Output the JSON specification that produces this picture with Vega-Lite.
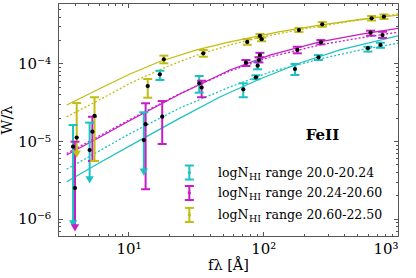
{
  "$schema": "https://vega.github.io/schema/vega-lite/v6.json",
  "width": 340,
  "height": 233,
  "autosize": {"type": "none"},
  "padding": {"left": 58, "top": 3, "right": 18, "bottom": 42},
  "config": {
    "view": {"stroke": "#555", "strokeWidth": 1},
    "font": "DejaVu Serif",
    "axis": {"domain": false, "grid": false, "tickColor": "#555", "tickWidth": 1, "labelFont": "DejaVu Serif", "labelFontSize": 15, "labelColor": "#000", "titleFont": "DejaVu Serif", "titleFontSize": 14.5, "titleFontWeight": "normal", "titleColor": "#000"}
  },
  "resolve": {"axis": {"x": "independent", "y": "independent"}},
  "datasets": {
    "bars": [
      {"s": "20.0-20.24", "x": 3.88, "y": 8.47e-6, "lo": 8.6e-7, "hi": 1.61e-5, "lim": true, "leg": false},
      {"s": "20.0-20.24", "x": 5.15, "y": 7.68e-6, "lo": 3.16e-6, "hi": 1.73e-5, "lim": true, "leg": false},
      {"s": "20.0-20.24", "x": 13.0, "y": 1.03e-5, "lo": 4.0e-6, "hi": 2.35e-5, "lim": true, "leg": false},
      {"s": "20.0-20.24", "x": 17.1, "y": 7.25e-5, "lo": 6.12e-5, "hi": 8.06e-5, "lim": false, "leg": false},
      {"s": "20.0-20.24", "x": 33.5, "y": 5.55e-5, "lo": 4.2e-5, "hi": 6.89e-5, "lim": false, "leg": false},
      {"s": "20.0-20.24", "x": 71.1, "y": 4.64e-5, "lo": 3.67e-5, "hi": 5.55e-5, "lim": false, "leg": false},
      {"s": "20.0-20.24", "x": 88.3, "y": 6.63e-5, "lo": 6.25e-5, "hi": 7.03e-5, "lim": false, "leg": false},
      {"s": "20.0-20.24", "x": 90.9, "y": 9.35e-5, "lo": 8.41e-5, "hi": 1.053e-4, "lim": false, "leg": false},
      {"s": "20.0-20.24", "x": 172, "y": 8.48e-5, "lo": 7.1e-5, "hi": 9.83e-5, "lim": false, "leg": false},
      {"s": "20.0-20.24", "x": 257, "y": 1.2e-4, "lo": 1.107e-4, "hi": 1.28e-4, "lim": false, "leg": false},
      {"s": "20.0-20.24", "x": 598, "y": 1.57e-4, "lo": 1.42e-4, "hi": 1.64e-4, "lim": false, "leg": false},
      {"s": "20.0-20.24", "x": 741, "y": 1.73e-4, "lo": 1.59e-4, "hi": 1.85e-4, "lim": false, "leg": false},
      {"s": "20.24-20.60", "x": 4.01, "y": 2.49e-6, "lo": 7.61e-7, "hi": 9.83e-6, "lim": true, "leg": false},
      {"s": "20.24-20.60", "x": 5.4, "y": 1.32e-5, "lo": 5.55e-6, "hi": 2.06e-5, "lim": false, "leg": false},
      {"s": "20.24-20.60", "x": 13.4, "y": 1.65e-5, "lo": 2.4e-6, "hi": 3.07e-5, "lim": false, "leg": false},
      {"s": "20.24-20.60", "x": 17.8, "y": 2.06e-5, "lo": 9.18e-6, "hi": 3.28e-5, "lim": false, "leg": false},
      {"s": "20.24-20.60", "x": 34.9, "y": 4.9e-5, "lo": 3.67e-5, "hi": 5.99e-5, "lim": false, "leg": false},
      {"s": "20.24-20.60", "x": 74.4, "y": 1.022e-4, "lo": 9.27e-5, "hi": 1.107e-4, "lim": false, "leg": false},
      {"s": "20.24-20.60", "x": 92.9, "y": 1.107e-4, "lo": 1.03e-4, "hi": 1.2e-4, "lim": false, "leg": false},
      {"s": "20.24-20.60", "x": 94.5, "y": 1.28e-4, "lo": 1.2e-4, "hi": 1.37e-4, "lim": false, "leg": false},
      {"s": "20.24-20.60", "x": 179, "y": 1.49e-4, "lo": 1.35e-4, "hi": 1.64e-4, "lim": false, "leg": false},
      {"s": "20.24-20.60", "x": 268, "y": 1.87e-4, "lo": 1.76e-4, "hi": 2.0e-4, "lim": false, "leg": false},
      {"s": "20.24-20.60", "x": 626, "y": 2.49e-4, "lo": 2.28e-4, "hi": 2.64e-4, "lim": false, "leg": false},
      {"s": "20.24-20.60", "x": 767, "y": 2.32e-4, "lo": 2.13e-4, "hi": 2.56e-4, "lim": false, "leg": false},
      {"s": "20.60-22.50", "x": 4.13, "y": 1.11e-5, "lo": 6.82e-6, "hi": 3.09e-5, "lim": true, "leg": false},
      {"s": "20.60-22.50", "x": 5.6, "y": 2.12e-5, "lo": 5.55e-6, "hi": 3.67e-5, "lim": false, "leg": false},
      {"s": "20.60-22.50", "x": 13.9, "y": 5.12e-5, "lo": 3.62e-5, "hi": 6.3e-5, "lim": false, "leg": false},
      {"s": "20.60-22.50", "x": 18.3, "y": 1.13e-4, "lo": 1.004e-4, "hi": 1.26e-4, "lim": false, "leg": false},
      {"s": "20.60-22.50", "x": 35.9, "y": 1.35e-4, "lo": 1.22e-4, "hi": 1.49e-4, "lim": false, "leg": false},
      {"s": "20.60-22.50", "x": 76.1, "y": 1.89e-4, "lo": 1.74e-4, "hi": 2.05e-4, "lim": false, "leg": false},
      {"s": "20.60-22.50", "x": 94.5, "y": 2.26e-4, "lo": 2.13e-4, "hi": 2.39e-4, "lim": false, "leg": false},
      {"s": "20.60-22.50", "x": 97.3, "y": 2.05e-4, "lo": 1.93e-4, "hi": 2.16e-4, "lim": false, "leg": false},
      {"s": "20.60-22.50", "x": 184, "y": 2.69e-4, "lo": 2.54e-4, "hi": 2.86e-4, "lim": false, "leg": false},
      {"s": "20.60-22.50", "x": 274, "y": 3.19e-4, "lo": 2.97e-4, "hi": 3.41e-4, "lim": false, "leg": false},
      {"s": "20.60-22.50", "x": 637, "y": 3.81e-4, "lo": 3.57e-4, "hi": 4.08e-4, "lim": false, "leg": false},
      {"s": "20.60-22.50", "x": 786, "y": 4.0e-4, "lo": 3.73e-4, "hi": 4.27e-4, "lim": false, "leg": false},
      {"s": "20.0-20.24", "x": 28.3, "y": 3.94e-6, "lo": 3.2e-6, "hi": 4.85e-6, "lim": false, "leg": true},
      {"s": "20.24-20.60", "x": 28.3, "y": 2.15e-6, "lo": 1.745e-6, "hi": 2.64e-6, "lim": false, "leg": true},
      {"s": "20.60-22.50", "x": 28.3, "y": 1.12e-6, "lo": 9.09e-7, "hi": 1.38e-6, "lim": false, "leg": true}
    ],
    "curves": [
      {"s": "20.60-22.50", "k": "solid", "x": 3.48, "y": 2.92e-5},
      {"s": "20.60-22.50", "k": "solid", "x": 6.15, "y": 4.76e-5},
      {"s": "20.60-22.50", "k": "solid", "x": 10.26, "y": 7.31e-5},
      {"s": "20.60-22.50", "k": "solid", "x": 17.1, "y": 1.059e-4},
      {"s": "20.60-22.50", "k": "solid", "x": 32.1, "y": 1.49e-4},
      {"s": "20.60-22.50", "k": "solid", "x": 56.6, "y": 1.89e-4},
      {"s": "20.60-22.50", "k": "solid", "x": 133, "y": 2.56e-4},
      {"s": "20.60-22.50", "k": "solid", "x": 263, "y": 3.12e-4},
      {"s": "20.60-22.50", "k": "solid", "x": 522, "y": 3.68e-4},
      {"s": "20.60-22.50", "k": "solid", "x": 1000, "y": 4.2e-4},
      {"s": "20.60-22.50", "k": "dotted", "x": 3.48, "y": 2.06e-5},
      {"s": "20.60-22.50", "k": "dotted", "x": 6.15, "y": 3.43e-5},
      {"s": "20.60-22.50", "k": "dotted", "x": 10.26, "y": 5.55e-5},
      {"s": "20.60-22.50", "k": "dotted", "x": 18.65, "y": 8.87e-5},
      {"s": "20.60-22.50", "k": "dotted", "x": 32.1, "y": 1.28e-4},
      {"s": "20.60-22.50", "k": "dotted", "x": 56.6, "y": 1.73e-4},
      {"s": "20.60-22.50", "k": "dotted", "x": 94.5, "y": 2.16e-4},
      {"s": "20.60-22.50", "k": "dotted", "x": 187, "y": 2.73e-4},
      {"s": "20.60-22.50", "k": "dotted", "x": 440, "y": 3.47e-4},
      {"s": "20.60-22.50", "k": "dotted", "x": 1000, "y": 4.33e-4},
      {"s": "20.24-20.60", "k": "solid", "x": 3.48, "y": 6.62e-6},
      {"s": "20.24-20.60", "k": "solid", "x": 6.15, "y": 1.13e-5},
      {"s": "20.24-20.60", "k": "solid", "x": 10.26, "y": 1.84e-5},
      {"s": "20.24-20.60", "k": "solid", "x": 24.1, "y": 4.04e-5},
      {"s": "20.24-20.60", "k": "solid", "x": 56.6, "y": 8.23e-5},
      {"s": "20.24-20.60", "k": "solid", "x": 112, "y": 1.28e-4},
      {"s": "20.24-20.60", "k": "solid", "x": 263, "y": 1.89e-4},
      {"s": "20.24-20.60", "k": "solid", "x": 522, "y": 2.36e-4},
      {"s": "20.24-20.60", "k": "solid", "x": 1000, "y": 2.83e-4},
      {"s": "20.24-20.60", "k": "dotted", "x": 3.48, "y": 6.93e-6},
      {"s": "20.24-20.60", "k": "dotted", "x": 6.15, "y": 1.18e-5},
      {"s": "20.24-20.60", "k": "dotted", "x": 10.26, "y": 1.9e-5},
      {"s": "20.24-20.60", "k": "dotted", "x": 24.1, "y": 4.1e-5},
      {"s": "20.24-20.60", "k": "dotted", "x": 56.6, "y": 7.99e-5},
      {"s": "20.24-20.60", "k": "dotted", "x": 112, "y": 1.21e-4},
      {"s": "20.24-20.60", "k": "dotted", "x": 263, "y": 1.73e-4},
      {"s": "20.24-20.60", "k": "dotted", "x": 522, "y": 2.13e-4},
      {"s": "20.24-20.60", "k": "dotted", "x": 1000, "y": 2.52e-4},
      {"s": "20.0-20.24", "k": "solid", "x": 3.48, "y": 3.0e-6},
      {"s": "20.0-20.24", "k": "solid", "x": 6.15, "y": 5.3e-6},
      {"s": "20.0-20.24", "k": "solid", "x": 12.2, "y": 1.03e-5},
      {"s": "20.0-20.24", "k": "solid", "x": 24.1, "y": 1.98e-5},
      {"s": "20.0-20.24", "k": "solid", "x": 47.7, "y": 3.7e-5},
      {"s": "20.0-20.24", "k": "solid", "x": 94.5, "y": 6.3e-5},
      {"s": "20.0-20.24", "k": "solid", "x": 187, "y": 1.013e-4},
      {"s": "20.0-20.24", "k": "solid", "x": 371, "y": 1.49e-4},
      {"s": "20.0-20.24", "k": "solid", "x": 1000, "y": 2.26e-4},
      {"s": "20.0-20.24", "k": "dotted", "x": 3.48, "y": 4.34e-6},
      {"s": "20.0-20.24", "k": "dotted", "x": 6.15, "y": 7.57e-6},
      {"s": "20.0-20.24", "k": "dotted", "x": 10.26, "y": 1.25e-5},
      {"s": "20.0-20.24", "k": "dotted", "x": 24.1, "y": 2.67e-5},
      {"s": "20.0-20.24", "k": "dotted", "x": 56.6, "y": 4.97e-5},
      {"s": "20.0-20.24", "k": "dotted", "x": 112, "y": 7.76e-5},
      {"s": "20.0-20.24", "k": "dotted", "x": 263, "y": 1.14e-4},
      {"s": "20.0-20.24", "k": "dotted", "x": 522, "y": 1.49e-4},
      {"s": "20.0-20.24", "k": "dotted", "x": 1000, "y": 1.82e-4}
    ],
    "labels": [
      {"t": "logN", "k": "main", "x": 46.1, "y": 3.94e-6},
      {"t": "HI", "k": "sub", "x": 78.4, "y": 3.94e-6},
      {"t": "range 20.0-20.24", "k": "main", "x": 104, "y": 3.94e-6},
      {"t": "logN", "k": "main", "x": 46.1, "y": 2.15e-6},
      {"t": "HI", "k": "sub", "x": 78.4, "y": 2.15e-6},
      {"t": "range 20.24-20.60", "k": "main", "x": 104, "y": 2.15e-6},
      {"t": "logN", "k": "main", "x": 46.1, "y": 1.12e-6},
      {"t": "HI", "k": "sub", "x": 78.4, "y": 1.12e-6},
      {"t": "range 20.60-22.50", "k": "main", "x": 104, "y": 1.12e-6},
      {"t": "FeII", "k": "title", "x": 275, "y": 1.2e-5}
    ]
  },
  "layer": [
    {
      "data": {"name": "curves"},
      "transform": [{"filter": "datum.k == 'solid'"}],
      "mark": {"type": "line", "strokeWidth": 1.3, "clip": true},
      "encoding": {
        "x": {"field": "x", "type": "quantitative", "scale": {"type": "log", "domain": [3, 1000], "nice": false},
              "axis": {"orient": "bottom", "values": [3,4,5,6,7,8,9,20,30,40,50,60,70,80,90,200,300,400,500,600,700,800,900], "tickSize": -2.5, "labels": false, "title": null}},
        "y": {"field": "y", "type": "quantitative", "scale": {"type": "log", "domain": [6e-7, 6e-4], "nice": false},
              "axis": {"orient": "left", "values": [6e-7,7e-7,8e-7,9e-7,2e-6,3e-6,4e-6,5e-6,6e-6,7e-6,8e-6,9e-6,2e-5,3e-5,4e-5,5e-5,6e-5,7e-5,8e-5,9e-5,2e-4,3e-4,4e-4,5e-4], "tickSize": -2.5, "labels": false, "title": null}},
        "color": {"field": "s", "type": "nominal", "scale": {"domain": ["20.0-20.24", "20.24-20.60", "20.60-22.50"], "range": ["#1cc2c2", "#c41ec4", "#c2bd12"]}, "legend": null}
      }
    },
    {
      "data": {"name": "curves"},
      "transform": [{"filter": "datum.k == 'dotted'"}],
      "mark": {"type": "line", "strokeWidth": 1.3, "strokeDash": [2, 2], "clip": true},
      "encoding": {
        "x": {"field": "x", "type": "quantitative", "scale": {"type": "log", "domain": [3, 1000], "nice": false},
              "axis": {"orient": "bottom", "values": [10, 100, 1000], "tickSize": -4.5, "labelPadding": 9.5, "labelExpr": "datum.value == 10 ? '10¹' : datum.value == 100 ? '10²' : '10³'", "title": "fλ [Å]", "titlePadding": 2}},
        "y": {"field": "y", "type": "quantitative", "scale": {"type": "log", "domain": [6e-7, 6e-4], "nice": false},
              "axis": {"orient": "left", "values": [0.000001, 0.00001, 0.0001], "tickSize": -4.5, "labelPadding": 12, "labelExpr": "datum.value < 0.000005 ? '10⁻⁶' : datum.value < 0.00005 ? '10⁻⁵' : '10⁻⁴'", "title": "W/λ", "titlePadding": 3}},
        "color": {"field": "s", "type": "nominal", "scale": {"domain": ["20.0-20.24", "20.24-20.60", "20.60-22.50"], "range": ["#1cc2c2", "#c41ec4", "#c2bd12"]}, "legend": null}
      }
    },
    {
      "data": {"name": "bars"},
      "mark": {"type": "rule", "strokeWidth": 2},
      "encoding": {
        "x": {"field": "x", "type": "quantitative", "scale": {"type": "log", "domain": [3, 1000], "nice": false},
              "axis": {"orient": "top", "values": [3,4,5,6,7,8,9,20,30,40,50,60,70,80,90,200,300,400,500,600,700,800,900], "tickSize": -2.5, "labels": false, "title": null}},
        "y": {"field": "lo", "type": "quantitative", "scale": {"type": "log", "domain": [6e-7, 6e-4], "nice": false},
              "axis": {"orient": "right", "values": [6e-7,7e-7,8e-7,9e-7,2e-6,3e-6,4e-6,5e-6,6e-6,7e-6,8e-6,9e-6,2e-5,3e-5,4e-5,5e-5,6e-5,7e-5,8e-5,9e-5,2e-4,3e-4,4e-4,5e-4], "tickSize": -2.5, "labels": false, "title": null}},
        "y2": {"field": "hi"},
        "color": {"field": "s", "type": "nominal", "scale": {"domain": ["20.0-20.24", "20.24-20.60", "20.60-22.50"], "range": ["#1cc2c2", "#c41ec4", "#c2bd12"]}, "legend": null}
      }
    },
    {
      "data": {"name": "bars"},
      "mark": {"type": "tick", "orient": "horizontal", "size": 9, "thickness": 2, "opacity": 1},
      "encoding": {
        "x": {"field": "x", "type": "quantitative", "scale": {"type": "log", "domain": [3, 1000], "nice": false},
              "axis": {"orient": "top", "values": [10, 100, 1000], "tickSize": -4.5, "labels": false, "title": null}},
        "y": {"field": "hi", "type": "quantitative", "scale": {"type": "log", "domain": [6e-7, 6e-4], "nice": false},
              "axis": {"orient": "right", "values": [0.000001, 0.00001, 0.0001], "tickSize": -4.5, "labels": false, "title": null}},
        "color": {"field": "s", "type": "nominal", "scale": {"domain": ["20.0-20.24", "20.24-20.60", "20.60-22.50"], "range": ["#1cc2c2", "#c41ec4", "#c2bd12"]}, "legend": null}
      }
    },
    {
      "data": {"name": "bars"},
      "transform": [{"filter": "!datum.lim"}],
      "mark": {"type": "tick", "orient": "horizontal", "size": 9, "thickness": 2, "opacity": 1},
      "encoding": {
        "x": {"field": "x", "type": "quantitative", "scale": {"type": "log", "domain": [3, 1000], "nice": false}, "axis": null},
        "y": {"field": "lo", "type": "quantitative", "scale": {"type": "log", "domain": [6e-7, 6e-4], "nice": false}, "axis": null},
        "color": {"field": "s", "type": "nominal", "scale": {"domain": ["20.0-20.24", "20.24-20.60", "20.60-22.50"], "range": ["#1cc2c2", "#c41ec4", "#c2bd12"]}, "legend": null}
      }
    },
    {
      "data": {"name": "bars"},
      "transform": [{"filter": "datum.lim"}],
      "mark": {"type": "point", "shape": "triangle-down", "filled": true, "size": 70, "opacity": 1},
      "encoding": {
        "x": {"field": "x", "type": "quantitative", "scale": {"type": "log", "domain": [3, 1000], "nice": false}, "axis": null},
        "y": {"field": "lo", "type": "quantitative", "scale": {"type": "log", "domain": [6e-7, 6e-4], "nice": false}, "axis": null},
        "color": {"field": "s", "type": "nominal", "scale": {"domain": ["20.0-20.24", "20.24-20.60", "20.60-22.50"], "range": ["#1cc2c2", "#c41ec4", "#c2bd12"]}, "legend": null}
      }
    },
    {
      "data": {"name": "bars"},
      "transform": [{"filter": "!datum.leg"}],
      "mark": {"type": "circle", "size": 18, "color": "#000", "opacity": 1},
      "encoding": {
        "x": {"field": "x", "type": "quantitative", "scale": {"type": "log", "domain": [3, 1000], "nice": false}, "axis": null},
        "y": {"field": "y", "type": "quantitative", "scale": {"type": "log", "domain": [6e-7, 6e-4], "nice": false}, "axis": null}
      }
    },
    {
      "data": {"name": "bars"},
      "transform": [{"filter": "datum.leg"}],
      "mark": {"type": "circle", "size": 10, "opacity": 1},
      "encoding": {
        "x": {"field": "x", "type": "quantitative", "scale": {"type": "log", "domain": [3, 1000], "nice": false}, "axis": null},
        "y": {"field": "y", "type": "quantitative", "scale": {"type": "log", "domain": [6e-7, 6e-4], "nice": false}, "axis": null},
        "color": {"field": "s", "type": "nominal", "scale": {"domain": ["20.0-20.24", "20.24-20.60", "20.60-22.50"], "range": ["#1cc2c2", "#c41ec4", "#c2bd12"]}, "legend": null}
      }
    },
    {
      "data": {"name": "labels"},
      "transform": [{"filter": "datum.k == 'main'"}],
      "mark": {"type": "text", "align": "left", "baseline": "middle", "font": "DejaVu Serif", "fontSize": 12.5, "color": "#000"},
      "encoding": {
        "x": {"field": "x", "type": "quantitative", "scale": {"type": "log", "domain": [3, 1000], "nice": false}, "axis": null},
        "y": {"field": "y", "type": "quantitative", "scale": {"type": "log", "domain": [6e-7, 6e-4], "nice": false}, "axis": null},
        "text": {"field": "t"}
      }
    },
    {
      "data": {"name": "labels"},
      "transform": [{"filter": "datum.k == 'sub'"}],
      "mark": {"type": "text", "align": "left", "baseline": "middle", "dy": 4, "font": "DejaVu Serif", "fontSize": 9.5, "color": "#000"},
      "encoding": {
        "x": {"field": "x", "type": "quantitative", "scale": {"type": "log", "domain": [3, 1000], "nice": false}, "axis": null},
        "y": {"field": "y", "type": "quantitative", "scale": {"type": "log", "domain": [6e-7, 6e-4], "nice": false}, "axis": null},
        "text": {"field": "t"}
      }
    },
    {
      "data": {"name": "labels"},
      "transform": [{"filter": "datum.k == 'title'"}],
      "mark": {"type": "text", "align": "center", "baseline": "middle", "font": "DejaVu Serif", "fontSize": 15, "fontWeight": "bold", "color": "#000"},
      "encoding": {
        "x": {"field": "x", "type": "quantitative", "scale": {"type": "log", "domain": [3, 1000], "nice": false}, "axis": null},
        "y": {"field": "y", "type": "quantitative", "scale": {"type": "log", "domain": [6e-7, 6e-4], "nice": false}, "axis": null},
        "text": {"field": "t"}
      }
    }
  ]
}
